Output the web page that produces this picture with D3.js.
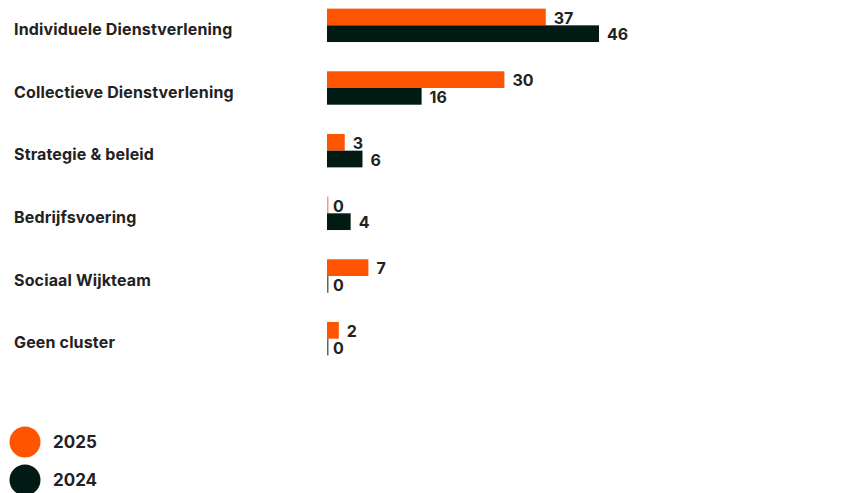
<!DOCTYPE html>
<html>
<head>
<meta charset="utf-8">
<script src="https://cdn.jsdelivr.net/npm/d3@7"></script>
<style>
  html, body { margin: 0; padding: 0; background: #fff; }
  svg { display: block; font-family: Inter, "Noto Sans", sans-serif; }
</style>
</head>
<body>
<svg id="chart"></svg>
<script>
const width = 848, height = 493;

// data
const categories = [
  "Individuele Dienstverlening",
  "Collectieve Dienstverlening",
  "Strategie & beleid",
  "Bedrijfsvoering",
  "Sociaal Wijkteam",
  "Geen cluster"
];
const series = ["2025", "2024"];
const values2025 = [37, 30, 3, 0, 7, 2];
const values2024 = [46, 16, 6, 4, 0, 0];
const colors = ["#ff5500", "#021a14"];
const zeroColors = ["#ff9a6e", "#5f6664"];

const svg = d3.select("#chart")
  .attr("width", width)
  .attr("height", height);

const barLeft = 327;

const y = d3.scaleBand()
  .domain(categories)
  .range([-6, 370])
  .paddingInner(0.467)
  .paddingOuter(0.2335);

const ySub = d3.scaleBand()
  .domain(series)
  .range([0, y.bandwidth()]);

const x = d3.scaleLinear()
  .domain([0, 46])
  .range([0, 272]);

// category labels
svg.append("g")
  .selectAll("text")
  .data(categories)
  .join("text")
    .attr("x", 14)
    .attr("y", d => y(d) + y.bandwidth() / 2 + 4)
    .attr("dy", "0.35em")
    .attr("font-size", 16)
    .attr("letter-spacing", 0.15)
    .attr("font-weight", 700)
    .attr("fill", "#222")
    .text(d => d);

const rows = categories.map((c, i) => ({
  cat: c,
  vals: [values2025[i], values2024[i]]
}));

const groups = svg.append("g")
  .selectAll("g")
  .data(rows)
  .join("g")
    .attr("transform", d => `translate(${barLeft},${y(d.cat)})`);

groups.selectAll("rect")
  .data(d => d.vals.map((v, j) => ({ v, s: series[j], j })))
  .join("rect")
    .attr("x", 0)
    .attr("y", d => ySub(d.s))
    .attr("width", d => Math.max(x(d.v), 1.5))
    .attr("height", ySub.bandwidth())
    .attr("fill", d => d.v === 0 ? zeroColors[d.j] : colors[d.j]);

groups.selectAll("text")
  .data(d => d.vals.map((v, j) => ({ v, s: series[j], j })))
  .join("text")
    .attr("x", d => Math.max(x(d.v), 1.5) + (d.v === 0 ? 4.5 : 8))
    .attr("y", d => ySub(d.s) + ySub.bandwidth() / 2 + 1)
    .attr("dy", "0.35em")
    .attr("font-size", 16)
    .attr("font-weight", 700)
    .attr("fill", "#222")
    .text(d => d.v);

// legend
const legend = svg.append("g")
  .selectAll("g")
  .data(series)
  .join("g")
    .attr("transform", (d, i) => `translate(25,${442 + i * 38})`);

legend.append("circle")
  .attr("r", 15.5)
  .attr("fill", (d, i) => colors[i]);

legend.append("text")
  .attr("x", 28)
  .attr("dy", "0.35em")
  .attr("font-size", 17)
  .attr("font-weight", 700)
  .attr("fill", "#222")
  .text(d => d);
</script>
</body>
</html>
